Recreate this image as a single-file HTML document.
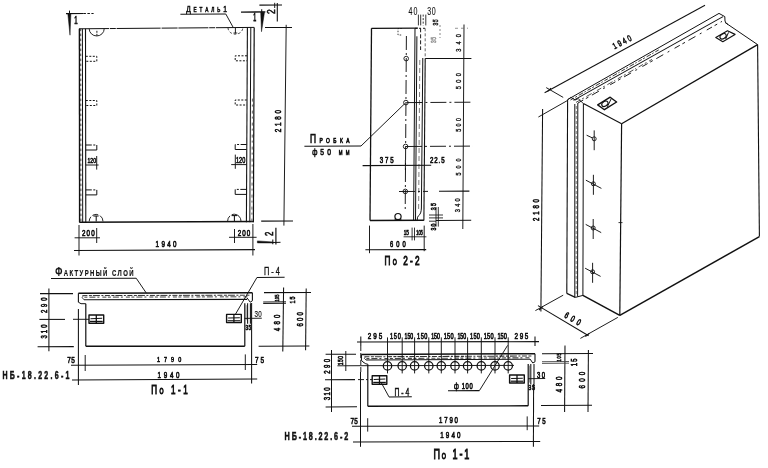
<!DOCTYPE html>
<html><head><meta charset="utf-8"><title>НБ-18.22.6</title>
<style>
html,body{margin:0;padding:0;background:#fff;}
body{width:768px;height:468px;overflow:hidden;}
svg{display:block;font-family:"Liberation Sans",sans-serif;filter:grayscale(1);}
</style></head><body>
<svg width="768" height="468" viewBox="0 0 768 468">
<rect width="768" height="468" fill="#fff"/>
<line x1="79.0" y1="28.8" x2="254.2" y2="27.4" stroke="#111" stroke-width="1.0" stroke-dasharray="30 0.8 6 0.8 44 1 16 0.8"/>
<line x1="79.3" y1="222.2" x2="253.6" y2="221.5" stroke="#111" stroke-width="1.5"/>
<line x1="79.4" y1="28.8" x2="79.6" y2="222.2" stroke="#111" stroke-width="1.4"/>
<line x1="82.4" y1="28.8" x2="82.7" y2="222.2" stroke="#111" stroke-width="1.0"/>
<line x1="85.5" y1="28.8" x2="85.8" y2="222.2" stroke="#111" stroke-width="1.1"/>
<line x1="247.4" y1="27.4" x2="246.4" y2="222.2" stroke="#111" stroke-width="1.1"/>
<line x1="250.8" y1="27.4" x2="249.8" y2="222.2" stroke="#111" stroke-width="1.0"/>
<line x1="254.2" y1="27.4" x2="253.4" y2="222.2" stroke="#111" stroke-width="1.2"/>
<line x1="80.7" y1="28.6" x2="80.9" y2="222.2" stroke="#333" stroke-width="0.9" stroke-dasharray="2.5 2.5"/>
<line x1="252.4" y1="98.6" x2="251.9" y2="222.2" stroke="#555" stroke-width="0.9" stroke-dasharray="3 3 2 4"/>
<path d="M85.8 56.3 L96.8 56.3 L96.8 61.3 L85.8 61.3" fill="none" stroke="#111" stroke-width="1.0" stroke-linejoin="round" stroke-dasharray="2 1.5"/>
<path d="M247.0 55.8 L235.2 55.8 L235.2 60.8 L247.0 60.8" fill="none" stroke="#111" stroke-width="1.0" stroke-linejoin="round" stroke-dasharray="2 1.5"/>
<path d="M85.8 100.5 L96.8 100.5 L96.8 105.5 L85.8 105.5" fill="none" stroke="#111" stroke-width="1.0" stroke-linejoin="round" stroke-dasharray="2 1.5"/>
<path d="M246.8 100.0 L235.2 100.0 L235.2 105.0 L246.8 105.0" fill="none" stroke="#111" stroke-width="1.0" stroke-linejoin="round" stroke-dasharray="2 1.5"/>
<path d="M85.8 145.0 L96.8 145.0 L96.8 150.0 L85.8 150.0" fill="none" stroke="#111" stroke-width="1.0" stroke-linejoin="round" stroke-dasharray="6 1.5 2 1.5 20"/>
<path d="M246.6 144.5 L235.2 144.5 L235.2 149.5 L246.6 149.5" fill="none" stroke="#111" stroke-width="1.0" stroke-linejoin="round" stroke-dasharray="6 1.5 2 1.5 20"/>
<path d="M85.8 189.9 L96.8 189.9 L96.8 194.9 L85.8 194.9" fill="none" stroke="#111" stroke-width="1.0" stroke-linejoin="round" stroke-dasharray="6 1.5 2 1.5 20"/>
<path d="M246.3 189.4 L235.2 189.4 L235.2 194.4 L246.3 194.4" fill="none" stroke="#111" stroke-width="1.0" stroke-linejoin="round" stroke-dasharray="6 1.5 2 1.5 20"/>
<path d="M89.2 28.8 A7.5 7.2 0 0 0 104.2 28.7" fill="none" stroke="#111" stroke-width="0.9"/>
<line x1="96.9" y1="30.8" x2="96.9" y2="36.0" stroke="#111" stroke-width="0.9500000000000001" stroke-dasharray="2 1"/>
<path d="M228 27.8 A7.4 6.5 0 0 0 242.8 27.6" fill="none" stroke="#111" stroke-width="0.8" stroke-dasharray="2.5 2"/>
<line x1="235.4" y1="28.0" x2="235.4" y2="33.5" stroke="#111" stroke-width="0.9500000000000001"/>
<line x1="233.5" y1="33.0" x2="237.3" y2="33.0" stroke="#111" stroke-width="0.85"/>
<path d="M89.2 221.4 A6.9 7 0 0 1 103 221.4" fill="none" stroke="#111" stroke-width="0.9" stroke-dasharray="5 2 6 2 20"/>
<line x1="93.4" y1="216.0" x2="98.6" y2="216.0" stroke="#111" stroke-width="1.05"/>
<line x1="96.2" y1="216.0" x2="96.2" y2="221.4" stroke="#111" stroke-width="1.05"/>
<path d="M227.6 221.2 A6.7 7 0 0 1 241 221.2" fill="none" stroke="#111" stroke-width="0.9" stroke-dasharray="6 2 20"/>
<line x1="231.6" y1="215.6" x2="237.0" y2="215.6" stroke="#111" stroke-width="1.05"/>
<line x1="234.4" y1="215.6" x2="234.4" y2="221.2" stroke="#111" stroke-width="1.05"/>
<line x1="85.6" y1="165.0" x2="98.6" y2="165.0" stroke="#111" stroke-width="0.9500000000000001"/>
<line x1="96.7" y1="156.0" x2="96.7" y2="169.6" stroke="#111" stroke-width="0.9500000000000001"/>
<text transform="translate(87.4,163.0) scale(0.636,1)" fill="#111" stroke="#111" stroke-width="0.63" style=""><tspan x="0.00 4.50 9.01" y="0" style="font-size:8.10px;">120</tspan></text>
<line x1="231.2" y1="164.6" x2="246.4" y2="164.6" stroke="#111" stroke-width="0.9500000000000001"/>
<line x1="235.3" y1="154.6" x2="235.3" y2="168.8" stroke="#111" stroke-width="0.9500000000000001"/>
<text transform="translate(236.0,162.9) scale(0.654,1)" fill="#111" stroke="#111" stroke-width="0.62" style=""><tspan x="0.00 4.74 9.48" y="0" style="font-size:8.52px;">120</tspan></text>
<line x1="79.0" y1="225.0" x2="79.0" y2="255.5" stroke="#111" stroke-width="0.9500000000000001"/>
<line x1="96.7" y1="228.0" x2="96.7" y2="243.0" stroke="#111" stroke-width="0.9500000000000001"/>
<line x1="74.6" y1="237.8" x2="100.0" y2="237.8" stroke="#111" stroke-width="0.9500000000000001"/>
<text transform="translate(81.9,236.1) scale(0.700,1)" fill="#111" stroke="#111" stroke-width="0.66" style=""><tspan x="0.00 6.73 13.46" y="0" style="font-size:8.94px;">200</tspan></text>
<line x1="252.9" y1="224.0" x2="252.9" y2="255.5" stroke="#111" stroke-width="0.9500000000000001"/>
<line x1="234.5" y1="229.0" x2="234.5" y2="243.0" stroke="#111" stroke-width="0.9500000000000001"/>
<line x1="229.0" y1="237.3" x2="256.6" y2="237.3" stroke="#111" stroke-width="0.9500000000000001"/>
<text transform="translate(237.7,235.6) scale(0.700,1)" fill="#111" stroke="#111" stroke-width="0.66" style=""><tspan x="0.00 6.44 12.89" y="0" style="font-size:8.94px;">200</tspan></text>
<line x1="74.0" y1="250.4" x2="255.0" y2="249.6" stroke="#111" stroke-width="1.05"/>
<text transform="translate(155.6,247.0) scale(0.700,1)" fill="#111" stroke="#111" stroke-width="0.66" style=""><tspan x="0.00 8.34 16.69 25.03" y="0" style="font-size:8.94px;">1940</tspan></text>
<line x1="265.0" y1="27.6" x2="292.0" y2="27.4" stroke="#111" stroke-width="1.05"/>
<line x1="261.2" y1="221.1" x2="293.0" y2="220.9" stroke="#111" stroke-width="1.05"/>
<line x1="286.2" y1="24.8" x2="283.9" y2="225.6" stroke="#111" stroke-width="0.9500000000000001"/>
<text transform="translate(281.2,132.2) rotate(-90) scale(0.700,1)" fill="#111" stroke="#111" stroke-width="0.66" style=""><tspan x="0.00 8.91 17.83 26.74" y="0" style="font-size:8.94px;">2180</tspan></text>
<line x1="66.0" y1="13.6" x2="83.4" y2="13.5" stroke="#111" stroke-width="1.2"/>
<line x1="83.4" y1="13.5" x2="93.6" y2="13.5" stroke="#111" stroke-width="1.05" stroke-dasharray="2.5 1.5"/>
<path d="M67.8 13.6 L70.9 13.6 L70.0 35.2 Z" fill="#111" stroke="#111" stroke-width="0.5" stroke-linejoin="round"/>
<line x1="69.5" y1="10.6" x2="69.5" y2="14.0" stroke="#111" stroke-width="1.05"/>
<text transform="translate(74.2,23.5) scale(0.576,1)" fill="#111" stroke="#111" stroke-width="0.72" style=""><tspan x="0.00" y="0" style="font-size:10.61px;">1</tspan></text>
<line x1="241.0" y1="12.1" x2="265.4" y2="11.9" stroke="#111" stroke-width="1.3"/>
<path d="M260.7 12.0 L264.5 12.2 L261.5 31.7 Z" fill="#111" stroke="#111" stroke-width="0.5" stroke-linejoin="round"/>
<line x1="261.7" y1="9.3" x2="261.7" y2="13.0" stroke="#111" stroke-width="1.05"/>
<text transform="translate(253.2,21.4) scale(0.529,1)" fill="#111" stroke="#111" stroke-width="0.76" style=""><tspan x="0.00" y="0" style="font-size:10.20px;">1</tspan></text>
<line x1="259.4" y1="5.2" x2="282.0" y2="5.0" stroke="#111" stroke-width="1.2"/>
<line x1="277.3" y1="3.0" x2="277.3" y2="21.4" stroke="#111" stroke-width="1.1"/>
<line x1="274.7" y1="2.8" x2="274.7" y2="8.0" stroke="#111" stroke-width="0.9500000000000001"/>
<text transform="translate(275.2,14.1) rotate(-90) scale(0.786,1)" fill="#111" stroke="#111" stroke-width="0.62" style=""><tspan x="0.00" y="0" style="font-size:10.75px;">2</tspan></text>
<line x1="275.9" y1="227.8" x2="275.9" y2="244.5" stroke="#111" stroke-width="1.2"/>
<path d="M257.4 240.9 L273.2 242.0 L273.2 243.0 L257.4 242.9 Z" fill="#111" stroke="#111" stroke-width="0.5" stroke-linejoin="round"/>
<line x1="273.0" y1="242.5" x2="280.5" y2="242.3" stroke="#111" stroke-width="1.0"/>
<line x1="272.8" y1="239.4" x2="272.8" y2="244.2" stroke="#111" stroke-width="1.05"/>
<text transform="translate(273.0,236.0) rotate(-90) scale(0.667,1)" fill="#111" stroke="#111" stroke-width="0.67" style=""><tspan x="0.00" y="0" style="font-size:11.59px;">2</tspan></text>
<text transform="translate(186.2,12.3) scale(0.700,1)" fill="#111" stroke="#111" stroke-width="0.60" style=""><tspan x="0.00" y="0" style="font-size:9.50px;">Д</tspan><tspan x="10.53 19.10 27.29 35.86 44.36" y="0" style="font-size:6.70px;text-transform:uppercase;">еталь</tspan><tspan x="52.86" y="0" style="font-size:9.50px;">1</tspan></text>
<line x1="180.4" y1="14.2" x2="225.8" y2="14.0" stroke="#111" stroke-width="1.05"/>
<line x1="225.8" y1="14.0" x2="233.2" y2="27.4" stroke="#111" stroke-width="0.9500000000000001"/>
<line x1="371.5" y1="28.3" x2="370.0" y2="220.5" stroke="#111" stroke-width="1.3"/>
<line x1="371.5" y1="28.3" x2="418.0" y2="28.1" stroke="#111" stroke-width="1.2"/>
<line x1="370.0" y1="220.5" x2="423.9" y2="220.3" stroke="#111" stroke-width="1.4"/>
<line x1="425.2" y1="58.6" x2="423.9" y2="220.5" stroke="#111" stroke-width="1.1"/>
<line x1="425.2" y1="28.3" x2="425.2" y2="58.6" stroke="#444" stroke-width="0.8" stroke-dasharray="3 2"/>
<line x1="415.0" y1="28.3" x2="413.6" y2="220.5" stroke="#111" stroke-width="1.0"/>
<line x1="416.9" y1="36.3" x2="415.5" y2="220.5" stroke="#111" stroke-width="1.0"/>
<line x1="420.6" y1="28.3" x2="420.6" y2="50.0" stroke="#111" stroke-width="0.9500000000000001" stroke-dasharray="4 2"/>
<path d="M422.8 58 L421.4 208 Q421.2 214 418.6 215.6 Q417.2 216.6 417.2 220.3" fill="none" stroke="#111" stroke-width="1.0"/>
<path d="M419.8 60 L418.6 212" fill="none" stroke="#444" stroke-width="0.7" stroke-dasharray="5 3"/>
<line x1="415.0" y1="28.3" x2="425.0" y2="28.3" stroke="#111" stroke-width="0.9500000000000001" stroke-dasharray="2 2"/>
<line x1="406.4" y1="36.0" x2="405.2" y2="212.0" stroke="#111" stroke-width="0.9500000000000001" stroke-dasharray="14 3 2 3"/>
<circle cx="406.2" cy="58.6" r="2.3" fill="none" stroke="#111" stroke-width="0.9"/>
<circle cx="405.9" cy="102.6" r="2.3" fill="none" stroke="#111" stroke-width="0.9"/>
<circle cx="405.6" cy="146.5" r="2.3" fill="none" stroke="#111" stroke-width="0.9"/>
<circle cx="405.3" cy="191.4" r="2.3" fill="none" stroke="#111" stroke-width="0.9"/>
<circle cx="398.0" cy="216.6" r="3.1" fill="none" stroke="#111" stroke-width="1.2"/>
<line x1="395.2" y1="218.4" x2="395.2" y2="220.4" stroke="#111" stroke-width="1.0"/>
<line x1="400.8" y1="218.4" x2="400.8" y2="220.4" stroke="#111" stroke-width="1.0"/>
<path d="M401.8 28.5 L398.0 28.5 L398.0 35.0 L401.8 35.0" fill="none" stroke="#111" stroke-width="0.8" stroke-linejoin="round" stroke-dasharray="1.5 1.5"/>
<text transform="translate(408.6,15.0) scale(0.700,1)" fill="#111" stroke="#111" stroke-width="0.12" style=""><tspan x="0.00 6.98" y="0" style="font-size:10.06px;">40</tspan></text>
<text transform="translate(427.2,15.0) scale(0.700,1)" fill="#111" stroke="#111" stroke-width="0.12" style=""><tspan x="0.00 6.41" y="0" style="font-size:10.06px;">30</tspan></text>
<line x1="418.4" y1="14.6" x2="418.4" y2="25.4" stroke="#111" stroke-width="0.85"/>
<line x1="420.7" y1="14.6" x2="420.7" y2="25.4" stroke="#111" stroke-width="0.85"/>
<line x1="423.2" y1="14.6" x2="423.2" y2="25.4" stroke="#111" stroke-width="0.85" stroke-dasharray="2 1.5"/>
<line x1="425.8" y1="14.6" x2="425.8" y2="25.4" stroke="#111" stroke-width="0.85"/>
<text transform="translate(438.4,25.6) rotate(-90) scale(0.700,1)" fill="#333" stroke="#333" stroke-width="0.66" style=""><tspan x="0.00 4.96" y="0" style="font-size:7.26px;">35</tspan></text>
<line x1="440.0" y1="25.0" x2="440.0" y2="38.0" stroke="#555" stroke-width="0.7" stroke-dasharray="2 2"/>
<text transform="translate(436.0,43.0) rotate(-90) scale(0.700,1)" fill="#999" stroke="#999" stroke-width="0.66" style=""><tspan x="0.00 4.69" y="0" style="font-size:6.98px;">35</tspan></text>
<line x1="464.0" y1="24.5" x2="462.8" y2="229.0" stroke="#111" stroke-width="0.9500000000000001"/>
<line x1="425.2" y1="58.6" x2="471.4" y2="58.4" stroke="#111" stroke-width="1.05"/>
<line x1="406.4" y1="102.6" x2="472.0" y2="102.2" stroke="#111" stroke-width="0.9500000000000001" stroke-dasharray="16 3 2 3"/>
<line x1="406.0" y1="146.5" x2="473.0" y2="146.1" stroke="#111" stroke-width="0.9500000000000001" stroke-dasharray="16 3 2 3"/>
<line x1="399.0" y1="191.5" x2="428.0" y2="191.4" stroke="#111" stroke-width="0.9500000000000001" stroke-dasharray="16 3 2 3"/>
<line x1="439.0" y1="191.3" x2="469.4" y2="191.1" stroke="#111" stroke-width="1.05"/>
<line x1="436.0" y1="220.4" x2="471.2" y2="220.2" stroke="#111" stroke-width="1.05"/>
<line x1="455.0" y1="28.3" x2="468.0" y2="28.2" stroke="#666" stroke-width="0.7" stroke-dasharray="3 3"/>
<text transform="translate(461.2,51.8) rotate(-90) scale(0.700,1)" fill="#111" stroke="#111" stroke-width="0.36" style=""><tspan x="0.00 10.46 20.92" y="0" style="font-size:8.10px;">340</tspan></text>
<text transform="translate(461.2,89.2) rotate(-90) scale(0.700,1)" fill="#111" stroke="#111" stroke-width="0.36" style=""><tspan x="0.00 9.32 18.64" y="0" style="font-size:8.10px;">500</tspan></text>
<text transform="translate(461.0,131.8) rotate(-90) scale(0.700,1)" fill="#111" stroke="#111" stroke-width="0.36" style=""><tspan x="0.00 7.68 15.36" y="0" style="font-size:7.82px;">500</tspan></text>
<text transform="translate(460.6,175.6) rotate(-90) scale(0.700,1)" fill="#111" stroke="#111" stroke-width="0.36" style=""><tspan x="0.00 10.11 20.22" y="0" style="font-size:7.82px;">500</tspan></text>
<text transform="translate(460.2,212.2) rotate(-90) scale(0.700,1)" fill="#111" stroke="#111" stroke-width="0.36" style=""><tspan x="0.00 7.68 15.35" y="0" style="font-size:8.10px;">340</tspan></text>
<line x1="362.6" y1="165.6" x2="431.2" y2="165.2" stroke="#111" stroke-width="1.05"/>
<line x1="405.4" y1="160.0" x2="405.4" y2="170.0" stroke="#111" stroke-width="0.9500000000000001"/>
<text transform="translate(379.8,162.6) scale(0.700,1)" fill="#111" stroke="#111" stroke-width="0.66" style=""><tspan x="0.00 7.41 14.82" y="0" style="font-size:8.80px;">375</tspan></text>
<text transform="translate(430.0,162.6) scale(0.700,1)" fill="#111" stroke="#111" stroke-width="0.66" style=""><tspan x="0.00 6.14 12.28 15.96" y="0" style="font-size:8.80px;">22.5</tspan></text>
<text transform="translate(310.0,142.8) scale(0.700,1)" fill="#111" stroke="#111" stroke-width="0.72" style=""><tspan x="0.00" y="0" style="font-size:12.01px;">П</tspan><tspan x="13.48 22.99 33.28 42.71 51.63" y="0" style="font-size:6.98px;text-transform:uppercase;">робка</tspan></text>
<line x1="304.4" y1="146.2" x2="361.0" y2="146.0" stroke="#111" stroke-width="1.05"/>
<line x1="361.0" y1="146.0" x2="404.6" y2="103.8" stroke="#111" stroke-width="0.9500000000000001"/>
<text transform="translate(312.2,155.2) scale(0.700,1)" fill="#111" stroke="#111" stroke-width="0.66" style=""><tspan x="0.00" y="0" style="font-size:8.94px;">ф</tspan><tspan x="11.69 21.39" y="0" style="font-size:9.64px;">50</tspan><tspan x="31.09" y="0" style="font-size:9.64px;"> </tspan><tspan x="38.10 47.79" y="0" style="font-size:6.42px;text-transform:uppercase;">мм</tspan></text>
<text transform="translate(435.8,210.2) rotate(-90) scale(0.700,1)" fill="#111" stroke="#111" stroke-width="0.66" style=""><tspan x="0.00 6.09" y="0" style="font-size:7.54px;">35</tspan></text>
<text transform="translate(435.8,230.6) rotate(-90) scale(0.700,1)" fill="#111" stroke="#111" stroke-width="0.66" style=""><tspan x="0.00 5.81" y="0" style="font-size:7.54px;">30</tspan></text>
<line x1="436.0" y1="207.0" x2="436.0" y2="226.6" stroke="#111" stroke-width="0.85"/>
<line x1="438.3" y1="207.0" x2="438.3" y2="226.6" stroke="#111" stroke-width="0.85"/>
<line x1="429.0" y1="215.0" x2="443.0" y2="215.0" stroke="#111" stroke-width="0.85"/>
<line x1="429.0" y1="217.9" x2="443.0" y2="217.9" stroke="#111" stroke-width="0.85"/>
<line x1="429.0" y1="221.2" x2="436.0" y2="221.2" stroke="#111" stroke-width="0.85"/>
<text transform="translate(403.7,235.4) scale(0.684,1)" fill="#111" stroke="#111" stroke-width="0.67" style=""><tspan x="0.00 3.73" y="0" style="font-size:6.70px;">15</tspan></text>
<text transform="translate(416.2,235.4) scale(0.590,1)" fill="#111" stroke="#111" stroke-width="0.72" style=""><tspan x="0.00 3.73 7.46" y="0" style="font-size:6.70px;">105</tspan></text>
<line x1="403.6" y1="236.8" x2="426.4" y2="236.8" stroke="#111" stroke-width="0.85"/>
<line x1="412.1" y1="227.6" x2="412.1" y2="240.4" stroke="#111" stroke-width="0.85"/>
<line x1="414.5" y1="227.6" x2="414.5" y2="240.4" stroke="#111" stroke-width="0.85"/>
<line x1="424.2" y1="225.6" x2="424.2" y2="251.2" stroke="#111" stroke-width="0.9500000000000001"/>
<line x1="369.5" y1="225.6" x2="369.5" y2="253.2" stroke="#111" stroke-width="0.9500000000000001"/>
<line x1="365.4" y1="249.8" x2="426.2" y2="249.6" stroke="#111" stroke-width="1.05"/>
<text transform="translate(390.0,247.2) scale(0.700,1)" fill="#111" stroke="#111" stroke-width="0.66" style=""><tspan x="0.00 8.99 17.99" y="0" style="font-size:8.24px;">600</tspan></text>
<text transform="translate(384.6,265.4) scale(0.600,1)" fill="#111" stroke="#111" stroke-width="1.03" style=""><tspan x="0.00" y="0" style="font-size:13.69px;">П</tspan><tspan x="13.47" y="0" style="font-size:8.66px;text-transform:uppercase;">о</tspan><tspan x="23.84 31.28 42.53 50.72" y="0" style="font-size:13.69px;"> 2-2</tspan></text>
<line x1="583.4" y1="103.6" x2="621.6" y2="123.8" stroke="#111" stroke-width="1.1"/>
<line x1="621.6" y1="123.8" x2="757.6" y2="44.6" stroke="#111" stroke-width="1.3"/>
<line x1="621.6" y1="123.8" x2="619.8" y2="315.4" stroke="#111" stroke-width="1.2"/>
<line x1="757.6" y1="44.6" x2="759.4" y2="236.6" stroke="#111" stroke-width="1.1"/>
<line x1="619.8" y1="315.4" x2="759.4" y2="236.6" stroke="#111" stroke-width="1.5"/>
<line x1="582.9" y1="295.4" x2="619.8" y2="315.4" stroke="#111" stroke-width="1.5"/>
<line x1="583.4" y1="103.6" x2="582.9" y2="295.4" stroke="#111" stroke-width="1.0"/>
<line x1="725.2" y1="22.6" x2="757.6" y2="44.6" stroke="#111" stroke-width="1.0"/>
<path d="M719 13.4 L724.8 16.6 L725 21 Q725.4 23.4 728 24.4" fill="none" stroke="#111" stroke-width="1.0"/>
<line x1="567.6" y1="99.6" x2="719.0" y2="13.4" stroke="#111" stroke-width="1.0"/>
<line x1="573.5" y1="100.4" x2="723.0" y2="16.6" stroke="#111" stroke-width="1.05"/>
<line x1="570.5" y1="100.0" x2="660.0" y2="49.2" stroke="#222" stroke-width="0.9" stroke-dasharray="4 1.5 2 2 5 1.5 1.5 2"/>
<line x1="576.0" y1="102.4" x2="652.0" y2="59.4" stroke="#222" stroke-width="0.8" stroke-dasharray="5 2 2 3 6 2 1 3"/>
<line x1="578.0" y1="103.0" x2="722.0" y2="21.4" stroke="#111" stroke-width="0.9500000000000001" stroke-dasharray="6 3 3 4 8 5 2 6"/>
<line x1="567.6" y1="99.8" x2="566.8" y2="293.4" stroke="#111" stroke-width="1.1"/>
<line x1="574.8" y1="104.0" x2="574.8" y2="297.4" stroke="#111" stroke-width="1.0"/>
<line x1="577.8" y1="103.0" x2="577.6" y2="296.6" stroke="#111" stroke-width="1.0"/>
<line x1="576.3" y1="106.0" x2="576.2" y2="296.0" stroke="#444" stroke-width="0.7" stroke-dasharray="3 2"/>
<path d="M567.6 99.8 L570.8 97.4 L575.2 100.0 L578.2 98.6 L583.4 103.6" fill="none" stroke="#111" stroke-width="0.9" stroke-linejoin="round"/>
<line x1="566.8" y1="293.4" x2="575.3" y2="297.4" stroke="#111" stroke-width="1.2"/>
<line x1="575.3" y1="297.4" x2="582.9" y2="295.4" stroke="#111" stroke-width="1.0"/>
<path d="M597.7 104.9 L610.2 97.2 L616.6 102.0 L604.4 109.7 Z" fill="none" stroke="#111" stroke-width="1.4" stroke-linejoin="round"/>
<ellipse cx="604.9" cy="103.8" rx="3.4" ry="2.3" transform="rotate(-32 604.9 103.8)" fill="none" stroke="#111" stroke-width="1.1"/>
<line x1="611.2" y1="98.8" x2="607.3" y2="106.8" stroke="#111" stroke-width="1.0"/>
<path d="M715.8 37.5 L727.5 30.8 L735.0 34.4 L722.8 41.7 Z" fill="none" stroke="#111" stroke-width="1.2" stroke-linejoin="round"/>
<ellipse cx="723.1" cy="36.3" rx="3.4" ry="2.3" transform="rotate(-32 723.1 36.3)" fill="none" stroke="#111" stroke-width="1.1"/>
<line x1="728.5" y1="32.4" x2="725.7" y2="39.0" stroke="#111" stroke-width="1.0"/>
<circle cx="594.2" cy="138.8" r="2.0" fill="none" stroke="#111" stroke-width="0.9"/>
<line x1="594.2" y1="130.4" x2="594.2" y2="150.2" stroke="#111" stroke-width="0.9500000000000001"/>
<line x1="586.6" y1="135.2" x2="592.6" y2="138.0" stroke="#111" stroke-width="0.9500000000000001"/>
<circle cx="593.4" cy="183.8" r="2.0" fill="none" stroke="#111" stroke-width="0.9"/>
<line x1="593.4" y1="174.8" x2="593.4" y2="194.8" stroke="#111" stroke-width="0.9500000000000001"/>
<line x1="585.9" y1="180.2" x2="601.4" y2="188.4" stroke="#111" stroke-width="0.9500000000000001"/>
<circle cx="593.2" cy="228.0" r="2.0" fill="none" stroke="#111" stroke-width="0.9"/>
<line x1="593.2" y1="219.0" x2="593.2" y2="239.0" stroke="#111" stroke-width="0.9500000000000001"/>
<line x1="585.7" y1="224.4" x2="601.2" y2="232.6" stroke="#111" stroke-width="0.9500000000000001"/>
<circle cx="592.6" cy="271.8" r="2.0" fill="none" stroke="#111" stroke-width="0.9"/>
<line x1="592.6" y1="262.8" x2="592.6" y2="282.8" stroke="#111" stroke-width="0.9500000000000001"/>
<line x1="585.1" y1="268.2" x2="600.6" y2="276.4" stroke="#111" stroke-width="0.9500000000000001"/>
<line x1="618.5" y1="222.6" x2="622.5" y2="222.6" stroke="#111" stroke-width="0.85"/>
<line x1="544.6" y1="92.8" x2="705.0" y2="5.2" stroke="#111" stroke-width="1.05"/>
<line x1="546.2" y1="87.6" x2="563.2" y2="97.4" stroke="#111" stroke-width="0.9500000000000001"/>
<line x1="547.4" y1="91.6" x2="551.0" y2="88.2" stroke="#111" stroke-width="1.05"/>
<text transform="translate(614.6,49.3) rotate(-27.5) scale(0.700,1)" fill="#111" stroke="#111" stroke-width="0.60" style=""><tspan x="0.00 7.82 15.65 23.47" y="0" style="font-size:8.66px;">1940</tspan></text>
<line x1="538.4" y1="117.0" x2="568.0" y2="100.2" stroke="#111" stroke-width="0.9500000000000001"/>
<line x1="542.6" y1="109.0" x2="540.9" y2="311.5" stroke="#111" stroke-width="1.05"/>
<text transform="translate(538.6,221.0) rotate(-90) scale(0.700,1)" fill="#111" stroke="#111" stroke-width="0.66" style=""><tspan x="0.00 8.87 17.74 26.61" y="0" style="font-size:8.66px;">2180</tspan></text>
<line x1="535.4" y1="310.6" x2="563.2" y2="295.2" stroke="#111" stroke-width="0.9500000000000001"/>
<line x1="538.0" y1="305.6" x2="588.6" y2="335.8" stroke="#111" stroke-width="1.05"/>
<line x1="580.4" y1="338.4" x2="617.8" y2="317.4" stroke="#111" stroke-width="0.9500000000000001"/>
<line x1="539.0" y1="310.0" x2="543.0" y2="306.4" stroke="#111" stroke-width="1.05"/>
<line x1="585.4" y1="336.6" x2="589.4" y2="333.4" stroke="#111" stroke-width="1.05"/>
<text transform="translate(563.8,316.9) rotate(30.5) scale(0.700,1)" fill="#111" stroke="#111" stroke-width="0.72" style=""><tspan x="0.00 9.98 19.96" y="0" style="font-size:8.80px;">600</tspan></text>
<line x1="78.4" y1="293.2" x2="252.4" y2="292.7" stroke="#111" stroke-width="1.5"/>
<line x1="78.4" y1="293.2" x2="78.4" y2="302.2" stroke="#111" stroke-width="1.1"/>
<path d="M78.4 302.2 L81.0 303.7 L85.8 303.7" fill="none" stroke="#111" stroke-width="1.0" stroke-linejoin="round"/>
<line x1="85.8" y1="303.7" x2="85.8" y2="346.2" stroke="#111" stroke-width="1.2"/>
<line x1="85.8" y1="346.2" x2="244.8" y2="346.2" stroke="#111" stroke-width="1.4"/>
<line x1="244.8" y1="346.2" x2="244.8" y2="303.2" stroke="#111" stroke-width="1.2"/>
<line x1="252.4" y1="292.7" x2="252.4" y2="300.8" stroke="#111" stroke-width="1.1"/>
<path d="M252.4 300.8 L250.2 302.2 L247.0 297.8" fill="none" stroke="#111" stroke-width="1.0" stroke-linejoin="round"/>
<line x1="84.0" y1="299.8" x2="247.0" y2="299.4" stroke="#111" stroke-width="1.1"/>
<path d="M84.0 299.8 L82.2 297.6 L83.0 296.2" fill="none" stroke="#111" stroke-width="0.8" stroke-linejoin="round"/>
<line x1="82.4" y1="295.6" x2="249.4" y2="295.2" stroke="#333" stroke-width="1.0" stroke-dasharray="5 1.5 3 1 7 1.5 2 1.5"/>
<line x1="84.4" y1="297.2" x2="247.4" y2="296.8" stroke="#444" stroke-width="1.0" stroke-dasharray="3 2 6 2 2 3 4 1.5"/>
<line x1="247.6" y1="303.2" x2="247.6" y2="323.7" stroke="#111" stroke-width="1.05"/>
<line x1="250.4" y1="303.2" x2="250.4" y2="323.7" stroke="#111" stroke-width="1.05"/>
<line x1="246.2" y1="305.2" x2="246.2" y2="320.2" stroke="#555" stroke-width="0.6"/>
<path d="M89.0 315.0 L103.7 315.0 L103.7 323.2 L89.0 323.2 Z" fill="none" stroke="#111" stroke-width="1.4" stroke-linejoin="round"/>
<line x1="96.3" y1="315.0" x2="96.3" y2="323.2" stroke="#111" stroke-width="1.3"/>
<line x1="90.5" y1="318.7" x2="102.2" y2="318.3" stroke="#111" stroke-width="1.05"/>
<line x1="90.0" y1="321.4" x2="102.7" y2="321.4" stroke="#111" stroke-width="1.2"/>
<path d="M226.6 314.4 L241.3 314.4 L241.3 322.6 L226.6 322.6 Z" fill="none" stroke="#111" stroke-width="1.4" stroke-linejoin="round"/>
<line x1="233.9" y1="314.4" x2="233.9" y2="322.6" stroke="#111" stroke-width="1.3"/>
<line x1="228.1" y1="318.1" x2="239.8" y2="317.7" stroke="#111" stroke-width="1.05"/>
<line x1="227.6" y1="320.8" x2="240.3" y2="320.8" stroke="#111" stroke-width="1.2"/>
<line x1="48.9" y1="288.6" x2="48.9" y2="351.2" stroke="#111" stroke-width="1.05"/>
<line x1="40.0" y1="293.6" x2="73.0" y2="293.6" stroke="#111" stroke-width="1.05"/>
<line x1="39.4" y1="319.4" x2="65.0" y2="319.4" stroke="#111" stroke-width="1.05"/>
<line x1="73.0" y1="319.3" x2="89.0" y2="319.3" stroke="#111" stroke-width="0.9500000000000001"/>
<line x1="37.6" y1="346.8" x2="73.8" y2="346.6" stroke="#111" stroke-width="1.05"/>
<text transform="translate(47.0,313.0) rotate(-90) scale(0.700,1)" fill="#111" stroke="#111" stroke-width="0.66" style=""><tspan x="0.00 8.67 17.34" y="0" style="font-size:8.38px;">290</tspan></text>
<text transform="translate(47.0,338.4) rotate(-90) scale(0.700,1)" fill="#111" stroke="#111" stroke-width="0.66" style=""><tspan x="0.00 7.53 15.05" y="0" style="font-size:8.38px;">310</tspan></text>
<line x1="78.4" y1="309.0" x2="78.4" y2="385.0" stroke="#111" stroke-width="1.05"/>
<line x1="85.2" y1="355.0" x2="85.2" y2="371.0" stroke="#111" stroke-width="0.9500000000000001"/>
<line x1="251.6" y1="303.0" x2="251.6" y2="383.4" stroke="#111" stroke-width="1.05"/>
<line x1="245.3" y1="354.4" x2="245.3" y2="370.0" stroke="#111" stroke-width="0.9500000000000001"/>
<line x1="71.0" y1="365.2" x2="257.2" y2="364.4" stroke="#111" stroke-width="1.05"/>
<line x1="72.0" y1="379.9" x2="257.2" y2="379.0" stroke="#111" stroke-width="1.05"/>
<text transform="translate(67.2,363.2) scale(0.700,1)" fill="#111" stroke="#111" stroke-width="0.66" style=""><tspan x="0.00 5.73" y="0" style="font-size:9.22px;">75</tspan></text>
<text transform="translate(255.0,362.8) scale(0.700,1)" fill="#111" stroke="#111" stroke-width="0.66" style=""><tspan x="0.00 7.73" y="0" style="font-size:9.22px;">75</tspan></text>
<text transform="translate(156.9,362.0) scale(0.700,1)" fill="#111" stroke="#111" stroke-width="0.66" style=""><tspan x="0.00 10.12 20.24 30.36" y="0" style="font-size:7.82px;">1790</tspan></text>
<text transform="translate(157.6,377.6) scale(0.700,1)" fill="#111" stroke="#111" stroke-width="0.66" style=""><tspan x="0.00 8.82 17.64 26.46" y="0" style="font-size:8.94px;">1940</tspan></text>
<text transform="translate(151.2,394.4) scale(0.600,1)" fill="#111" stroke="#111" stroke-width="1.03" style=""><tspan x="0.00" y="0" style="font-size:13.41px;">П</tspan><tspan x="13.94" y="0" style="font-size:8.66px;text-transform:uppercase;">о</tspan><tspan x="24.98 33.01 44.77 53.54" y="0" style="font-size:13.41px;"> 1-1</tspan></text>
<text transform="translate(2.4,378.6) scale(0.660,1)" fill="#111" stroke="#111" stroke-width="0.55" style="font-weight:bold;"><tspan x="0.00 11.11 22.17 29.15 38.49 47.83 54.22 63.56 72.91 79.30 88.64 95.61" y="0" style="font-size:10.61px;">НБ-18.22.6-1</tspan></text>
<text transform="translate(55.2,276.0) scale(0.620,1)" fill="#111" stroke="#111" stroke-width="0.19" style="font-weight:bold;"><tspan x="0.00" y="0" style="font-size:13.41px;">Ф</tspan><tspan x="13.73 22.98 31.14 39.31 47.60 56.31 65.55 77.28 86.49 91.45 100.70 109.74 119.53" y="0" style="font-size:9.64px;text-transform:uppercase;">актурный слой</tspan></text>
<line x1="51.0" y1="278.5" x2="136.2" y2="278.2" stroke="#111" stroke-width="1.05"/>
<line x1="136.2" y1="278.2" x2="146.4" y2="293.2" stroke="#111" stroke-width="0.9500000000000001"/>
<text transform="translate(264.0,275.4) scale(0.660,1)" fill="#111" stroke="#111" stroke-width="0.37" style=""><tspan x="0.00 11.02 17.73" y="0" style="font-size:11.17px;">П-4</tspan></text>
<line x1="257.0" y1="277.4" x2="284.6" y2="277.2" stroke="#111" stroke-width="1.05"/>
<line x1="257.0" y1="277.4" x2="235.0" y2="315.0" stroke="#111" stroke-width="0.9500000000000001"/>
<line x1="283.6" y1="287.6" x2="282.8" y2="351.6" stroke="#111" stroke-width="1.05"/>
<line x1="306.2" y1="288.4" x2="305.6" y2="350.2" stroke="#111" stroke-width="1.05"/>
<line x1="264.0" y1="292.6" x2="311.0" y2="292.4" stroke="#111" stroke-width="1.05"/>
<line x1="263.2" y1="302.0" x2="286.0" y2="301.8" stroke="#111" stroke-width="0.9500000000000001"/>
<line x1="263.2" y1="303.5" x2="286.0" y2="303.3" stroke="#111" stroke-width="0.9500000000000001"/>
<line x1="258.6" y1="346.2" x2="309.4" y2="345.9" stroke="#111" stroke-width="1.05"/>
<text transform="translate(278.6,301.6) rotate(-90) scale(0.700,1)" fill="#111" stroke="#111" stroke-width="0.66" style=""><tspan x="0.00 3.45 6.89" y="0" style="font-size:5.59px;">105</tspan></text>
<text transform="translate(294.6,303.6) rotate(-90) scale(0.700,1)" fill="#111" stroke="#111" stroke-width="0.66" style=""><tspan x="0.00 5.94" y="0" style="font-size:7.82px;">15</tspan></text>
<text transform="translate(279.6,331.2) rotate(-90) scale(0.700,1)" fill="#111" stroke="#111" stroke-width="0.66" style=""><tspan x="0.00 9.45 18.90" y="0" style="font-size:8.66px;">480</tspan></text>
<text transform="translate(303.2,326.6) rotate(-90) scale(0.700,1)" fill="#111" stroke="#111" stroke-width="0.66" style=""><tspan x="0.00 7.88 15.76" y="0" style="font-size:8.66px;">600</tspan></text>
<text transform="translate(254.6,317.0) scale(0.700,1)" fill="#111" stroke="#111" stroke-width="0.18" style=""><tspan x="0.00 5.32" y="0" style="font-size:8.94px;">30</tspan></text>
<line x1="244.6" y1="318.4" x2="261.8" y2="318.2" stroke="#111" stroke-width="0.9500000000000001"/>
<text transform="translate(245.6,330.4) scale(0.700,1)" fill="#111" stroke="#111" stroke-width="0.66" style=""><tspan x="0.00 4.27" y="0" style="font-size:6.70px;">35</tspan></text>
<line x1="361.4" y1="354.6" x2="535.0" y2="353.7" stroke="#111" stroke-width="1.5"/>
<line x1="361.4" y1="354.6" x2="361.4" y2="360.2" stroke="#111" stroke-width="1.1"/>
<path d="M361.4 360.2 L363.0 362.0 L365.8 363.8 L367.8 364.2" fill="none" stroke="#111" stroke-width="1.0" stroke-linejoin="round"/>
<line x1="367.8" y1="364.2" x2="367.8" y2="406.2" stroke="#111" stroke-width="1.2"/>
<line x1="367.8" y1="406.2" x2="528.2" y2="405.8" stroke="#111" stroke-width="1.4"/>
<line x1="528.2" y1="405.8" x2="528.2" y2="364.0" stroke="#111" stroke-width="1.2"/>
<line x1="535.0" y1="353.7" x2="535.0" y2="361.8" stroke="#111" stroke-width="1.1"/>
<path d="M535.0 361.8 L532.8 363.0 L530.0 359.0" fill="none" stroke="#111" stroke-width="1.0" stroke-linejoin="round"/>
<line x1="366.0" y1="360.0" x2="530.0" y2="359.2" stroke="#111" stroke-width="1.0"/>
<path d="M366.0 360.0 L364.4 358.4 L365.2 357.2" fill="none" stroke="#111" stroke-width="0.8" stroke-linejoin="round"/>
<line x1="364.4" y1="356.8" x2="532.0" y2="356.0" stroke="#333" stroke-width="1.1" stroke-dasharray="5 1.5 3 1 7 1.5 2 1.5"/>
<line x1="366.4" y1="358.6" x2="530.0" y2="357.8" stroke="#444" stroke-width="1.1" stroke-dasharray="3 2 6 2 2 3 4 1.5"/>
<line x1="530.8" y1="364.0" x2="530.8" y2="384.6" stroke="#111" stroke-width="1.05"/>
<line x1="534.0" y1="364.0" x2="534.0" y2="384.6" stroke="#111" stroke-width="1.05"/>
<line x1="529.5" y1="365.6" x2="529.5" y2="382.6" stroke="#555" stroke-width="0.6"/>
<circle cx="387.5" cy="365.9" r="4.2" fill="none" stroke="#111" stroke-width="1.25"/>
<line x1="387.5" y1="359.0" x2="387.5" y2="373.4" stroke="#111" stroke-width="0.9500000000000001"/>
<circle cx="402.2" cy="365.9" r="4.2" fill="none" stroke="#111" stroke-width="1.25"/>
<line x1="402.2" y1="359.0" x2="402.2" y2="373.4" stroke="#111" stroke-width="0.9500000000000001"/>
<circle cx="414.6" cy="365.9" r="4.2" fill="none" stroke="#111" stroke-width="1.25"/>
<line x1="414.6" y1="359.0" x2="414.6" y2="373.4" stroke="#111" stroke-width="0.9500000000000001"/>
<circle cx="428.8" cy="365.9" r="4.2" fill="none" stroke="#111" stroke-width="1.25"/>
<line x1="428.8" y1="359.0" x2="428.8" y2="373.4" stroke="#111" stroke-width="0.9500000000000001"/>
<circle cx="441.3" cy="365.9" r="4.2" fill="none" stroke="#111" stroke-width="1.25"/>
<line x1="441.3" y1="359.0" x2="441.3" y2="373.4" stroke="#111" stroke-width="0.9500000000000001"/>
<circle cx="455.0" cy="365.9" r="4.2" fill="none" stroke="#111" stroke-width="1.25"/>
<line x1="455.0" y1="359.0" x2="455.0" y2="373.4" stroke="#111" stroke-width="0.9500000000000001"/>
<circle cx="467.6" cy="365.9" r="4.2" fill="none" stroke="#111" stroke-width="1.25"/>
<line x1="467.6" y1="359.0" x2="467.6" y2="373.4" stroke="#111" stroke-width="0.9500000000000001"/>
<circle cx="481.3" cy="365.9" r="4.2" fill="none" stroke="#111" stroke-width="1.25"/>
<line x1="481.3" y1="359.0" x2="481.3" y2="373.4" stroke="#111" stroke-width="0.9500000000000001"/>
<circle cx="495.0" cy="365.9" r="4.2" fill="none" stroke="#111" stroke-width="1.25"/>
<line x1="495.0" y1="359.0" x2="495.0" y2="373.4" stroke="#111" stroke-width="0.9500000000000001"/>
<circle cx="508.2" cy="365.9" r="4.2" fill="none" stroke="#111" stroke-width="1.25"/>
<line x1="508.2" y1="359.0" x2="508.2" y2="373.4" stroke="#111" stroke-width="0.9500000000000001"/>
<line x1="360.0" y1="365.7" x2="514.0" y2="365.4" stroke="#111" stroke-width="0.9500000000000001"/>
<line x1="357.0" y1="341.9" x2="539.0" y2="341.6" stroke="#111" stroke-width="1.05"/>
<line x1="360.8" y1="336.6" x2="360.8" y2="346.0" stroke="#111" stroke-width="1.05"/>
<line x1="387.5" y1="337.4" x2="387.5" y2="359.0" stroke="#111" stroke-width="0.9500000000000001"/>
<line x1="402.2" y1="337.4" x2="402.2" y2="359.0" stroke="#111" stroke-width="0.9500000000000001"/>
<line x1="414.6" y1="337.4" x2="414.6" y2="359.0" stroke="#111" stroke-width="0.9500000000000001"/>
<line x1="428.8" y1="337.4" x2="428.8" y2="359.0" stroke="#111" stroke-width="0.9500000000000001"/>
<line x1="441.3" y1="337.4" x2="441.3" y2="359.0" stroke="#111" stroke-width="0.9500000000000001"/>
<line x1="455.0" y1="337.4" x2="455.0" y2="359.0" stroke="#111" stroke-width="0.9500000000000001"/>
<line x1="467.6" y1="337.4" x2="467.6" y2="359.0" stroke="#111" stroke-width="0.9500000000000001"/>
<line x1="481.3" y1="337.4" x2="481.3" y2="359.0" stroke="#111" stroke-width="0.9500000000000001"/>
<line x1="495.0" y1="337.4" x2="495.0" y2="359.0" stroke="#111" stroke-width="0.9500000000000001"/>
<line x1="508.2" y1="337.4" x2="508.2" y2="359.0" stroke="#111" stroke-width="0.9500000000000001"/>
<line x1="535.0" y1="336.6" x2="535.0" y2="346.0" stroke="#111" stroke-width="1.05"/>
<line x1="360.8" y1="346.0" x2="360.8" y2="372.0" stroke="#111" stroke-width="0.9500000000000001" stroke-dasharray="5 2"/>
<text transform="translate(367.7,339.2) scale(0.700,1)" fill="#111" stroke="#111" stroke-width="0.66" style=""><tspan x="0.00 7.98 15.95" y="0" style="font-size:9.08px;">295</tspan></text>
<text transform="translate(389.9,339.1) scale(0.660,1)" fill="#111" stroke="#111" stroke-width="0.68" style=""><tspan x="0.00 5.89 11.78" y="0" style="font-size:8.52px;">150</tspan></text>
<text transform="translate(404.6,339.1) scale(0.605,1)" fill="#111" stroke="#111" stroke-width="0.71" style=""><tspan x="0.00 4.74 9.48" y="0" style="font-size:8.52px;">150</tspan></text>
<text transform="translate(417.0,339.1) scale(0.660,1)" fill="#111" stroke="#111" stroke-width="0.68" style=""><tspan x="0.00 5.51 11.02" y="0" style="font-size:8.52px;">150</tspan></text>
<text transform="translate(431.2,339.1) scale(0.612,1)" fill="#111" stroke="#111" stroke-width="0.70" style=""><tspan x="0.00 4.74 9.48" y="0" style="font-size:8.52px;">150</tspan></text>
<text transform="translate(443.7,339.1) scale(0.660,1)" fill="#111" stroke="#111" stroke-width="0.68" style=""><tspan x="0.00 5.13 10.26" y="0" style="font-size:8.52px;">150</tspan></text>
<text transform="translate(457.4,339.1) scale(0.619,1)" fill="#111" stroke="#111" stroke-width="0.70" style=""><tspan x="0.00 4.74 9.48" y="0" style="font-size:8.52px;">150</tspan></text>
<text transform="translate(470.0,339.1) scale(0.660,1)" fill="#111" stroke="#111" stroke-width="0.68" style=""><tspan x="0.00 5.13 10.26" y="0" style="font-size:8.52px;">150</tspan></text>
<text transform="translate(483.7,339.1) scale(0.660,1)" fill="#111" stroke="#111" stroke-width="0.68" style=""><tspan x="0.00 5.13 10.26" y="0" style="font-size:8.52px;">150</tspan></text>
<text transform="translate(497.4,339.1) scale(0.660,1)" fill="#111" stroke="#111" stroke-width="0.68" style=""><tspan x="0.00 4.75 9.50" y="0" style="font-size:8.52px;">150</tspan></text>
<text transform="translate(514.6,339.2) scale(0.700,1)" fill="#111" stroke="#111" stroke-width="0.66" style=""><tspan x="0.00 7.19 14.38" y="0" style="font-size:9.08px;">295</tspan></text>
<path d="M372.2 375.7 L386.8 375.7 L386.8 384.3 L372.2 384.3 Z" fill="none" stroke="#111" stroke-width="1.4" stroke-linejoin="round"/>
<line x1="379.5" y1="375.7" x2="379.5" y2="384.3" stroke="#111" stroke-width="1.3"/>
<line x1="373.7" y1="379.6" x2="385.3" y2="379.1" stroke="#111" stroke-width="1.05"/>
<line x1="373.2" y1="382.4" x2="385.8" y2="382.4" stroke="#111" stroke-width="1.2"/>
<path d="M509.6 375.0 L524.3 375.0 L524.3 383.0 L509.6 383.0 Z" fill="none" stroke="#111" stroke-width="1.4" stroke-linejoin="round"/>
<line x1="517.0" y1="375.0" x2="517.0" y2="383.0" stroke="#111" stroke-width="1.3"/>
<line x1="511.1" y1="378.6" x2="522.8" y2="378.2" stroke="#111" stroke-width="1.05"/>
<line x1="510.6" y1="381.2" x2="523.3" y2="381.2" stroke="#111" stroke-width="1.2"/>
<text transform="translate(394.4,395.8) scale(0.660,1)" fill="#111" stroke="#111" stroke-width="0.49" style=""><tspan x="0.00 10.33 16.68" y="0" style="font-size:10.34px;">П-4</tspan></text>
<line x1="389.0" y1="396.9" x2="411.8" y2="396.7" stroke="#111" stroke-width="1.05"/>
<line x1="389.0" y1="396.9" x2="381.2" y2="382.6" stroke="#111" stroke-width="0.9500000000000001"/>
<text transform="translate(454.0,389.4) scale(0.700,1)" fill="#111" stroke="#111" stroke-width="0.66" style=""><tspan x="0.00 7.72 10.95 16.47 21.99" y="0" style="font-size:8.24px;">ф 100</tspan></text>
<line x1="448.0" y1="390.8" x2="479.4" y2="390.6" stroke="#111" stroke-width="1.05"/>
<line x1="479.4" y1="390.6" x2="507.6" y2="345.4" stroke="#111" stroke-width="0.9500000000000001"/>
<line x1="331.5" y1="350.0" x2="331.5" y2="412.0" stroke="#111" stroke-width="1.05"/>
<line x1="325.6" y1="354.3" x2="356.0" y2="354.2" stroke="#111" stroke-width="1.05"/>
<line x1="325.0" y1="379.7" x2="355.0" y2="379.6" stroke="#111" stroke-width="1.05"/>
<line x1="358.0" y1="379.6" x2="372.0" y2="379.6" stroke="#111" stroke-width="0.9500000000000001" stroke-dasharray="6 2 2 2"/>
<line x1="325.6" y1="406.9" x2="357.0" y2="406.8" stroke="#111" stroke-width="1.05"/>
<line x1="345.8" y1="351.0" x2="345.8" y2="371.0" stroke="#111" stroke-width="0.9500000000000001"/>
<line x1="337.4" y1="365.8" x2="360.0" y2="365.7" stroke="#111" stroke-width="0.9500000000000001"/>
<text transform="translate(343.2,365.2) rotate(-90) scale(0.700,1)" fill="#111" stroke="#111" stroke-width="0.66" style=""><tspan x="0.00 4.63 9.26" y="0" style="font-size:6.98px;">150</tspan></text>
<text transform="translate(329.6,373.8) rotate(-90) scale(0.700,1)" fill="#111" stroke="#111" stroke-width="0.66" style=""><tspan x="0.00 8.16 16.33" y="0" style="font-size:8.66px;">290</tspan></text>
<text transform="translate(329.6,400.2) rotate(-90) scale(0.700,1)" fill="#111" stroke="#111" stroke-width="0.66" style=""><tspan x="0.00 6.74 13.47" y="0" style="font-size:8.66px;">310</tspan></text>
<line x1="360.5" y1="372.0" x2="360.5" y2="446.8" stroke="#111" stroke-width="1.05"/>
<line x1="367.7" y1="418.2" x2="367.7" y2="431.6" stroke="#111" stroke-width="0.9500000000000001"/>
<line x1="533.6" y1="384.0" x2="533.4" y2="446.8" stroke="#111" stroke-width="1.05"/>
<line x1="527.2" y1="416.4" x2="527.2" y2="430.2" stroke="#111" stroke-width="0.9500000000000001"/>
<line x1="352.0" y1="426.3" x2="539.2" y2="425.9" stroke="#111" stroke-width="1.05"/>
<line x1="353.0" y1="441.9" x2="540.2" y2="441.5" stroke="#111" stroke-width="1.05"/>
<text transform="translate(350.4,423.8) scale(0.700,1)" fill="#111" stroke="#111" stroke-width="0.66" style=""><tspan x="0.00 5.52" y="0" style="font-size:9.08px;">75</tspan></text>
<text transform="translate(537.3,423.6) scale(0.700,1)" fill="#111" stroke="#111" stroke-width="0.66" style=""><tspan x="0.00 7.25" y="0" style="font-size:8.80px;">75</tspan></text>
<text transform="translate(439.0,423.2) scale(0.700,1)" fill="#111" stroke="#111" stroke-width="0.66" style=""><tspan x="0.00 7.44 14.89 22.33" y="0" style="font-size:8.66px;">1790</tspan></text>
<text transform="translate(440.3,438.4) scale(0.700,1)" fill="#111" stroke="#111" stroke-width="0.66" style=""><tspan x="0.00 7.96 15.92 23.89" y="0" style="font-size:8.94px;">1940</tspan></text>
<text transform="translate(433.4,458.7) scale(0.600,1)" fill="#111" stroke="#111" stroke-width="1.03" style=""><tspan x="0.00" y="0" style="font-size:15.08px;">П</tspan><tspan x="14.08" y="0" style="font-size:8.94px;text-transform:uppercase;">о</tspan><tspan x="24.28 31.71 43.35 51.61" y="0" style="font-size:15.08px;"> 1-1</tspan></text>
<text transform="translate(284.6,440.0) scale(0.660,1)" fill="#111" stroke="#111" stroke-width="0.55" style="font-weight:bold;"><tspan x="0.00 10.69 21.34 27.78 36.66 45.54 51.38 60.26 69.14 74.98 83.86 90.31" y="0" style="font-size:10.89px;">НБ-18.22.6-2</tspan></text>
<line x1="565.0" y1="345.4" x2="564.6" y2="412.0" stroke="#111" stroke-width="1.05"/>
<line x1="588.4" y1="350.0" x2="588.0" y2="412.0" stroke="#111" stroke-width="1.05"/>
<line x1="542.0" y1="353.7" x2="593.0" y2="353.4" stroke="#111" stroke-width="1.05"/>
<line x1="542.0" y1="361.7" x2="569.0" y2="361.5" stroke="#444" stroke-width="0.9"/>
<line x1="542.0" y1="363.4" x2="569.0" y2="363.2" stroke="#444" stroke-width="0.9"/>
<line x1="541.0" y1="405.5" x2="592.0" y2="405.2" stroke="#111" stroke-width="1.05"/>
<text transform="translate(560.6,361.4) rotate(-90) scale(0.700,1)" fill="#111" stroke="#111" stroke-width="0.66" style=""><tspan x="0.00 4.16 8.32" y="0" style="font-size:5.59px;">105</tspan></text>
<text transform="translate(577.2,366.2) rotate(-90) scale(0.700,1)" fill="#111" stroke="#111" stroke-width="0.66" style=""><tspan x="0.00 6.20" y="0" style="font-size:8.38px;">15</tspan></text>
<text transform="translate(561.8,392.4) rotate(-90) scale(0.700,1)" fill="#111" stroke="#111" stroke-width="0.66" style=""><tspan x="0.00 8.80 17.60" y="0" style="font-size:8.94px;">480</tspan></text>
<text transform="translate(585.2,388.5) rotate(-90) scale(0.700,1)" fill="#111" stroke="#111" stroke-width="0.66" style=""><tspan x="0.00 9.51 19.03" y="0" style="font-size:8.94px;">600</tspan></text>
<text transform="translate(537.0,377.7) scale(0.700,1)" fill="#111" stroke="#111" stroke-width="0.66" style=""><tspan x="0.00 6.77" y="0" style="font-size:8.38px;">30</tspan></text>
<line x1="528.0" y1="378.7" x2="545.2" y2="378.5" stroke="#111" stroke-width="0.9500000000000001"/>
<text transform="translate(528.2,390.2) scale(0.700,1)" fill="#111" stroke="#111" stroke-width="0.66" style=""><tspan x="0.00 5.57" y="0" style="font-size:7.96px;">35</tspan></text>
</svg>
</body></html>
